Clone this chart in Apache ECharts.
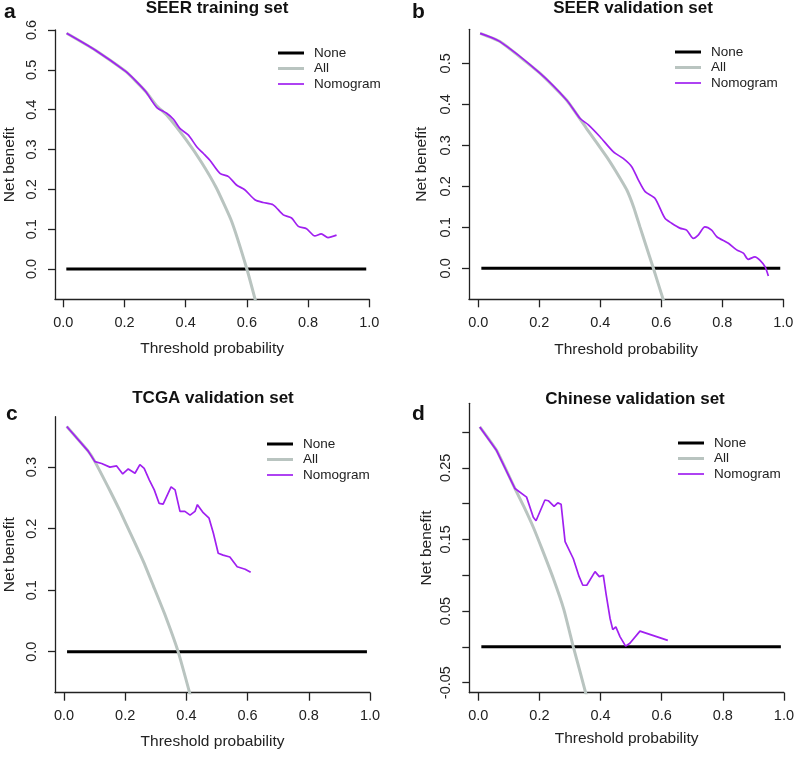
<!DOCTYPE html>
<html>
<head>
<meta charset="utf-8">
<script src="https://cdn.jsdelivr.net/npm/echarts@6/dist/echarts.min.js"></script>
<style>
  html, body { margin: 0; padding: 0; background: #fff; }
  #chart { width: 797px; height: 758px; }
</style>
</head>
<body>
<div id="chart"></div>
<script>
// threshold grid shared by the "None" reference line
const noneX = [0.01, 0.99]
const noneY = [0, 0]

const xTicks = [0, 0.2, 0.4, 0.6, 0.8, 1.0]

// a: SEER training set
const aAllX = [0.011, 0.104, 0.204, 0.27, 0.305, 0.34, 0.4, 0.45, 0.5, 0.55, 0.6, 0.63]
const aAllY = [0.592, 0.55, 0.496, 0.445, 0.41, 0.385, 0.326, 0.27, 0.204, 0.12, 0.0, -0.085]
const aNomX = [0.011, 0.104, 0.204, 0.24, 0.27, 0.305, 0.338, 0.36, 0.381, 0.409, 0.436, 0.458, 0.479, 0.512, 0.54, 0.566, 0.593, 0.626, 0.653, 0.686, 0.719, 0.746, 0.768, 0.795, 0.822, 0.843, 0.865, 0.893]
const aNomY = [0.592, 0.55, 0.496, 0.47, 0.445, 0.406, 0.391, 0.376, 0.353, 0.336, 0.307, 0.29, 0.273, 0.24, 0.232, 0.211, 0.199, 0.174, 0.167, 0.161, 0.136, 0.128, 0.107, 0.101, 0.083, 0.088, 0.079, 0.085]
const aYTicks = [0, 0.1, 0.2, 0.3, 0.4, 0.5, 0.6]

// b: SEER validation set
const bAllX = [0.006, 0.071, 0.202, 0.29, 0.355, 0.421, 0.45, 0.487, 0.51, 0.53, 0.55, 0.574, 0.61]
const bAllY = [0.573, 0.553, 0.476, 0.41, 0.341, 0.272, 0.238, 0.191, 0.148, 0.101, 0.055, 0.0, -0.085]
const bNomX = [0.006, 0.071, 0.202, 0.29, 0.333, 0.361, 0.399, 0.443, 0.475, 0.503, 0.525, 0.547, 0.579, 0.612, 0.634, 0.661, 0.683, 0.705, 0.721, 0.743, 0.765, 0.782, 0.82, 0.847, 0.869, 0.885, 0.907, 0.923, 0.94, 0.951]
const bNomY = [0.573, 0.553, 0.476, 0.41, 0.366, 0.35, 0.321, 0.284, 0.268, 0.248, 0.215, 0.187, 0.171, 0.122, 0.11, 0.098, 0.093, 0.073, 0.081, 0.101, 0.093, 0.077, 0.061, 0.045, 0.037, 0.022, 0.028, 0.02, 0.004, -0.019]
const bYTicks = [0, 0.1, 0.2, 0.3, 0.4, 0.5]

// c: TCGA validation set
const cAllX = [0.009, 0.079, 0.101, 0.15, 0.18, 0.226, 0.26, 0.292, 0.33, 0.373, 0.415]
const cAllY = [0.366, 0.326, 0.309, 0.262, 0.232, 0.183, 0.146, 0.107, 0.06, 0.0, -0.075]
const cNomX = [0.009, 0.079, 0.101, 0.123, 0.15, 0.172, 0.192, 0.21, 0.232, 0.248, 0.262, 0.279, 0.295, 0.311, 0.324, 0.35, 0.363, 0.379, 0.395, 0.412, 0.428, 0.436, 0.442, 0.455, 0.474, 0.488, 0.504, 0.52, 0.542, 0.566, 0.592, 0.61]
const cNomY = [0.366, 0.326, 0.309, 0.306, 0.3, 0.302, 0.289, 0.297, 0.29, 0.304, 0.298, 0.279, 0.263, 0.241, 0.24, 0.268, 0.263, 0.228, 0.228, 0.222, 0.228, 0.239, 0.238, 0.226, 0.217, 0.193, 0.16, 0.157, 0.154, 0.138, 0.134, 0.129]
const cYTicks = [0, 0.1, 0.2, 0.3]

// d: Chinese validation set
const dAllX = [0.005, 0.06, 0.12, 0.15, 0.18, 0.21, 0.245, 0.28, 0.311, 0.33, 0.355]
const dAllY = [0.307, 0.274, 0.221, 0.195, 0.167, 0.135, 0.096, 0.052, 0.0, -0.03, -0.07]
const dNomX = [0.005, 0.06, 0.12, 0.158, 0.18, 0.189, 0.218, 0.229, 0.248, 0.26, 0.271, 0.284, 0.311, 0.33, 0.342, 0.355, 0.382, 0.396, 0.409, 0.418, 0.431, 0.44, 0.45, 0.464, 0.482, 0.496, 0.529, 0.62]
const dNomY = [0.307, 0.274, 0.221, 0.209, 0.181, 0.176, 0.205, 0.204, 0.196, 0.201, 0.199, 0.147, 0.123, 0.098, 0.086, 0.086, 0.105, 0.098, 0.1, 0.074, 0.04, 0.024, 0.028, 0.014, 0.001, 0.005, 0.022, 0.009]
const dYTicks = [-0.05, 0, 0.05, 0.1, 0.15, 0.2, 0.25, 0.3]
const dYLabels = [-0.05, 0.05, 0.15, 0.25]

const FONT = 'Liberation Sans, Arial, sans-serif'
const INK = '#222'
const PURPLE = '#A020F0'
const GREY = '#b9c4c0'

const zip = (xs, ys) => xs.map((x, i) => [x, ys[i]])

const panels = [
  { letter: 'a', title: 'SEER training set', grid: [55, 30, 314.3, 269.3], xMin: -0.027, yMin: -0.076, yMax: 0.6,
    yTicks: aYTicks, yLabels: aYTicks, dec: 1, allX: aAllX, allY: aAllY, nomX: aNomX, nomY: aNomY, smooth: 0.25,
    titleXY: [217, 8], letterXY: [4, 12], legendXY: [278, 46], xNameGap: 41, yNameGap: 37 },
  { letter: 'b', title: 'SEER validation set', grid: [469, 29.3, 314.3, 270], xMin: -0.0305, yMin: -0.0756, yMax: 0.583,
    yTicks: bYTicks, yLabels: bYTicks, dec: 1, allX: bAllX, allY: bAllY, nomX: bNomX, nomY: bNomY, smooth: 0.25,
    titleXY: [633, 8], letterXY: [412, 12], legendXY: [675, 45], xNameGap: 42, yNameGap: 39 },
  { letter: 'c', title: 'TCGA validation set', grid: [55, 416.7, 315, 276], xMin: -0.0294, yMin: -0.0667, yMax: 0.382,
    yTicks: cYTicks, yLabels: cYTicks, dec: 1, allX: cAllX, allY: cAllY, nomX: cNomX, nomY: cNomY, smooth: 0,
    titleXY: [213, 398], letterXY: [6, 414], legendXY: [267, 437], xNameGap: 41, yNameGap: 37 },
  { letter: 'd', title: 'Chinese validation set', grid: [469.3, 403.3, 314.7, 289.4], xMin: -0.0294, yMin: -0.064, yMax: 0.34,
    yTicks: dYTicks, yLabels: dYLabels, dec: 2, allX: dAllX, allY: dAllY, nomX: dNomX, nomY: dNomY, smooth: 0,
    titleXY: [635, 399], letterXY: [412, 414], legendXY: [678, 436], xNameGap: 38, yNameGap: 35 },
]

const axisLineStyle = { color: INK, width: 1.3 }

const grids = panels.map(p => ({ left: p.grid[0], top: p.grid[1], width: p.grid[2], height: p.grid[3], containLabel: false }))

const xAxes = panels.map((p, i) => ({
  type: 'value', gridIndex: i, min: p.xMin, max: 1,
  axisLine: { show: true, onZero: false, lineStyle: axisLineStyle },
  axisTick: { show: true, inside: false, length: 8, customValues: xTicks, lineStyle: axisLineStyle },
  axisLabel: { customValues: xTicks, formatter: v => v.toFixed(1), margin: 16, color: INK, fontSize: 14.5, fontFamily: FONT },
  splitLine: { show: false },
  name: 'Threshold probability', nameLocation: 'middle', nameGap: p.xNameGap,
  nameTextStyle: { color: INK, fontSize: 15.5, fontFamily: FONT },
}))

const yAxes = panels.map((p, i) => ({
  type: 'value', gridIndex: i, min: p.yMin, max: p.yMax,
  axisLine: { show: true, onZero: false, lineStyle: axisLineStyle },
  axisTick: { show: true, inside: false, length: 7, customValues: p.yTicks, lineStyle: axisLineStyle },
  axisLabel: { customValues: p.yLabels, rotate: 90, formatter: v => v.toFixed(p.dec), margin: 16, color: INK, fontSize: 14.5, fontFamily: FONT },
  splitLine: { show: false },
  name: 'Net benefit', nameLocation: 'middle', nameGap: p.yNameGap, nameRotate: 90,
  nameTextStyle: { color: INK, fontSize: 15.5, fontFamily: FONT },
}))

const series = []
panels.forEach((p, i) => {
  series.push({ type: 'line', name: 'None', xAxisIndex: i, yAxisIndex: i, data: zip(noneX, noneY),
    symbol: 'none', color: '#000', lineStyle: { color: '#000', width: 3 }, silent: true })
  series.push({ type: 'line', name: 'All', xAxisIndex: i, yAxisIndex: i, data: zip(p.allX, p.allY),
    symbol: 'none', smooth: 0.15, color: GREY, lineStyle: { color: GREY, width: 3 }, silent: true })
  series.push({ type: 'line', name: 'Nomogram', xAxisIndex: i, yAxisIndex: i, data: zip(p.nomX, p.nomY),
    symbol: 'none', smooth: p.smooth, color: PURPLE, lineStyle: { color: PURPLE, width: 1.7 }, silent: true })
})

const legends = panels.map(p => ({
  left: p.legendXY[0], top: p.legendXY[1], orient: 'vertical', padding: 0,
  itemWidth: 26, itemHeight: 14, itemGap: 1.5, selectedMode: false,
  textStyle: { color: INK, fontSize: 13.5, fontFamily: FONT, lineHeight: 14, padding: [0, 0, 0, 5] },
  data: [
    { name: 'None', icon: 'path://M0 0H26V3H0Z' },
    { name: 'All', icon: 'path://M0 0H26V3H0Z' },
    { name: 'Nomogram', icon: 'path://M0 0H26V1.7H0Z' },
  ],
}))

const graphics = []
panels.forEach(p => {
  graphics.push({ type: 'text', x: p.titleXY[0], y: p.titleXY[1],
    style: { text: p.title, fill: '#111', font: 'bold 17px ' + FONT, textAlign: 'center', textVerticalAlign: 'middle' } })
  graphics.push({ type: 'text', x: p.letterXY[0], y: p.letterXY[1],
    style: { text: p.letter, fill: '#111', font: 'bold 21px ' + FONT, textAlign: 'left', textVerticalAlign: 'middle' } })
})

const chart = echarts.init(document.getElementById('chart'), null, { renderer: 'canvas' })
chart.setOption({
  animation: false,
  backgroundColor: '#fff',
  grid: grids,
  xAxis: xAxes,
  yAxis: yAxes,
  legend: legends,
  series: series,
  graphic: graphics,
})
</script>
</body>
</html>
